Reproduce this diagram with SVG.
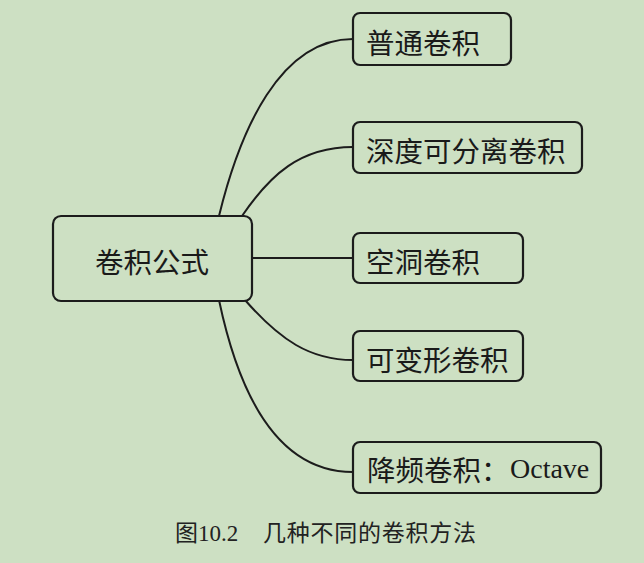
<svg xmlns="http://www.w3.org/2000/svg" width="644" height="563" viewBox="0 0 644 563">
<style>
.box{fill:#cde0c3;stroke:#1c1c1c;stroke-width:2.2}
.lbl{font-family:"Noto Sans CJK SC","Liberation Sans",sans-serif;font-size:28.5px;fill:#1a1a1a;dominant-baseline:central}
.lat{font-family:"Liberation Serif",serif}
.con{fill:none;stroke:#1c1c1c;stroke-width:2}
.cap{font-family:"Liberation Serif","Noto Sans CJK SC",serif;font-size:23px;fill:#222}
</style>
<rect width="644" height="563" fill="#cde0c3"/>
<g id="connectors">
<path class="con" d="M219,216 C240,130 280,39 353,39"/>
<path class="con" d="M242,216 C270,175 300,147 353,147"/>
<path class="con" d="M252,258 L353,258"/>
<path class="con" d="M245,300 C280,340 310,360 353,360"/>
<path class="con" d="M219,300 C240,400 280,472 353,472"/>
</g>
<g id="root">
<rect class="box" x="53" y="216" width="199" height="85" rx="8"/>
<text class="lbl" x="152" y="260" text-anchor="middle">卷积公式</text>
</g>
<g id="n1">
<rect class="box" x="353" y="13" width="158" height="52" rx="7"/>
<text class="lbl" x="366" y="41">普通卷积</text>
</g>
<g id="n2">
<rect class="box" x="353" y="122" width="229" height="51" rx="7"/>
<text class="lbl" x="366" y="149">深度可分离卷积</text>
</g>
<g id="n3">
<rect class="box" x="353" y="233" width="170" height="50" rx="7"/>
<text class="lbl" x="366" y="260">空洞卷积</text>
</g>
<g id="n4">
<rect class="box" x="353" y="331" width="170" height="50" rx="7"/>
<text class="lbl" x="366" y="358">可变形卷积</text>
</g>
<g id="n5">
<rect class="box" x="353" y="442" width="248" height="51" rx="7"/>
<text class="lbl" x="367" y="468">降频卷积：<tspan class="lat" x="510" font-size="28">Octave</tspan></text>
</g>
<g id="caption">
<text class="cap" x="175" y="541">图10.2</text>
<text class="cap" x="263" y="541" textLength="213" lengthAdjust="spacing">几种不同的卷积方法</text>
</g>
</svg>
